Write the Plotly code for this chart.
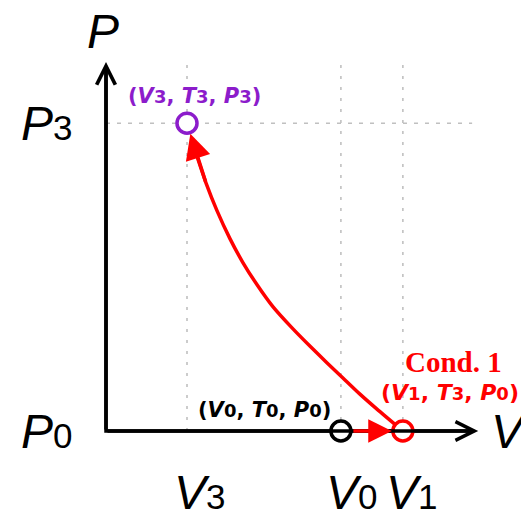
import plotly.graph_objects as go

# ---- data ----
V3, V0, V1 = 2.0, 5.8, 7.33
P0, P3 = 1.0, 8.6
V_AXIS_END, P_AXIS_END = 9.19, 10.11

# red curve from state 1 (V1,P0) back to state 3 (V3,P3)
curve_V = [7.33, 6.69, 6.27, 5.85, 5.46, 5.04, 4.57, 4.12, 3.73, 3.38, 3.06,
           2.74, 2.47, 2.25, 2.0]
curve_P = [1.00, 1.54, 1.91, 2.31, 2.68, 3.09, 3.57, 4.07, 4.61, 5.16, 5.75,
           6.44, 7.12, 7.77, 8.6]

PURPLE = "#8C1CCB"
RED = "#FF0000"
GRAY = "#C0C0C0"
SANS = "Liberation Sans, Arial, sans-serif"
BOLD = "DejaVu Sans, Verdana, sans-serif"
SERIF = "Liberation Serif, Times New Roman, serif"

S = 40.5  # pixels per data unit
def xd(px):
    return (px - 106) / S
def yd(py):
    return P0 + (431 - py) / S

fig = go.Figure()

# guide lines
for v in [V3, V0, V1]:
    fig.add_trace(go.Scatter(x=[v, v], y=[P0, P_AXIS_END], mode="lines",
                             line=dict(color=GRAY, width=1.6, dash="3px,8px"),
                             hoverinfo="skip", showlegend=False))
fig.add_trace(go.Scatter(x=[0, 9.04], y=[P3, P3], mode="lines",
                         line=dict(color=GRAY, width=1.6, dash="4px,7px"),
                         hoverinfo="skip", showlegend=False))

# axes
fig.add_trace(go.Scatter(x=[0, 0, V_AXIS_END - 0.1], y=[P_AXIS_END - 0.1, P0, P0], mode="lines",
                         line=dict(color="black", width=3.5),
                         hoverinfo="skip", showlegend=False))

# red curve
fig.add_trace(go.Scatter(x=curve_V[:-1], y=curve_P[:-1], mode="lines",
                         line=dict(color=RED, width=3.5, shape="spline", smoothing=0.6),
                         hoverinfo="skip", showlegend=False))

# state circle 0
fig.add_trace(go.Scatter(x=[V0], y=[P0], mode="markers",
                         marker=dict(size=20, color="white", line=dict(color="black", width=3.5)),
                         hoverinfo="skip", showlegend=False))

annotations = []
# axis arrowheads
annotations.append(dict(x=0, y=P_AXIS_END, ax=0, ay=P0, xref="x", yref="y", axref="x", ayref="y",
                        text="", showarrow=True, arrowhead=5, arrowsize=1.05, arrowwidth=3.5,
                        arrowcolor="black"))
annotations.append(dict(x=V_AXIS_END, y=P0, ax=0, ay=P0, xref="x", yref="y", axref="x", ayref="y",
                        text="", showarrow=True, arrowhead=5, arrowsize=1.05, arrowwidth=3.5,
                        arrowcolor="black"))
# red arrows
annotations.append(dict(x=V1, y=P0, ax=V0, ay=P0, xref="x", yref="y", axref="x", ayref="y",
                        text="", showarrow=True, arrowhead=2, arrowsize=1.35, arrowwidth=3.5,
                        arrowcolor=RED, standoff=11, startstandoff=11))
annotations.append(dict(x=V3, y=P3, ax=curve_V[-3], ay=curve_P[-3], xref="x", yref="y",
                        axref="x", ayref="y",
                        text="", showarrow=True, arrowhead=2, arrowsize=1.45, arrowwidth=3.5,
                        arrowcolor=RED, standoff=11))

def lab(x, y, text, size, color="black", family=SANS, xshift=0, yshift=0, xanchor="center"):
    annotations.append(dict(x=x, y=y, xref="x", yref="y", text=text, showarrow=False,
                            font=dict(size=size, color=color, family=family),
                            xanchor=xanchor, yanchor="middle", xshift=xshift, yshift=yshift))

def big(letter, sub):
    return f"<i>{letter}</i><span style='font-size:35px'>{sub}</span>"

# axis names and tick labels
lab(xd(103), yd(31), "<i>P</i>", 48)
lab(xd(509), P0, "<i>V</i>", 48)
lab(xd(46), P3, big("P", "3"), 48)
lab(xd(46), P0, big("P", "0"), 48)
lab(V3, yd(492), big("V", "3"), 48, xshift=12)
lab(V0, yd(492), big("V", "0"), 48, xshift=11)
lab(V1, yd(492), big("V", "1"), 48, xshift=9)

def state(a, b, c, sub_size):
    sub = lambda s: f"<span style='font-size:{sub_size}px'>{s}</span>"
    return f"<b>(<i>V</i>{sub(a)}, <i>T</i>{sub(b)}, <i>P</i>{sub(c)})</b>"

lab(V3, P3, state("3", "3", "3", 18), 21, color=PURPLE, family=BOLD, xshift=7, yshift=27)
lab(V0, P0, state("0", "0", "0", 18), 21, color="black", family=BOLD, xshift=-76, yshift=21)
lab(xd(453), yd(362), "<b>Cond. 1</b>", 29, color=RED, family=SERIF)
lab(xd(450), yd(392), state("1", "3", "0", 18), 22, color=RED, family=BOLD)

fig.add_trace(go.Scatter(x=[V1], y=[P0], mode="markers",
                         marker=dict(size=20, color="white", line=dict(color=RED, width=3.5)),
                         hoverinfo="skip", showlegend=False))
fig.add_trace(go.Scatter(x=[V3], y=[P3], mode="markers",
                         marker=dict(size=20, color="white", line=dict(color=PURPLE, width=3.5)),
                         hoverinfo="skip", showlegend=False))

fig.update_layout(
    width=521, height=517,
    margin=dict(l=0, r=0, t=0, b=0),
    paper_bgcolor="white", plot_bgcolor="white",
    xaxis=dict(range=[xd(0), xd(521)], visible=False, fixedrange=True),
    yaxis=dict(range=[yd(517), yd(0)], visible=False, fixedrange=True),
    annotations=annotations,
    showlegend=False,
)

fig.write_html("out.html")
